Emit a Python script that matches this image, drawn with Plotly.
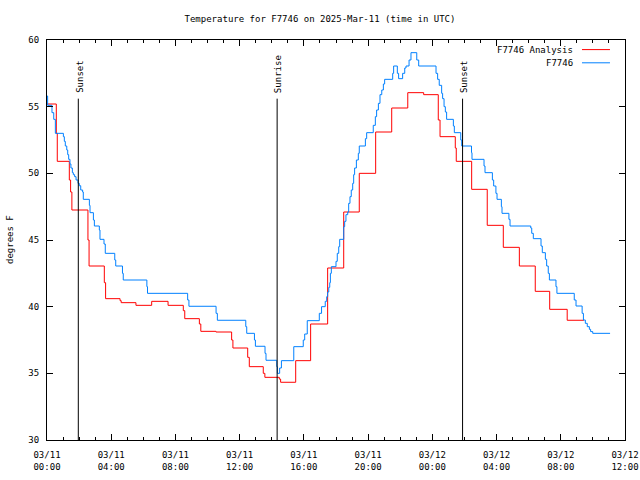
import pandas as pd
import plotly.graph_objects as go

START = pd.Timestamp("2025-03-11 00:00")

# Hourly analysis (hours after 03/11 00:00 UTC, degrees F)
analysis_hours = [0.00, 0.58, 0.64, 1.39, 1.47, 1.55, 2.55, 2.62, 3.57, 3.65,
                  4.55, 4.62, 5.54, 6.52, 7.54, 8.49, 8.58, 9.49, 9.58, 10.52,
                  11.50, 11.58, 12.50, 12.60, 13.47, 13.57, 14.47, 14.55, 15.49, 16.42,
                  17.48, 18.48, 19.45, 20.47, 21.47, 22.47, 23.46, 24.37, 24.48, 25.43,
                  25.49, 26.45, 27.42, 28.42, 29.42, 30.41, 31.31, 32.40, 33.44]
analysis_temps = [55.2, 53.0, 50.9, 49.5, 48.6, 47.25, 45.0, 43.05, 41.8, 40.6,
                  40.45, 40.3, 40.1, 40.4, 40.1, 39.7, 39.1, 38.7, 38.15, 38.1,
                  37.5, 36.9, 36.2, 35.5, 35.0, 34.7, 34.57, 34.33, 35.95, 38.7,
                  42.9, 47.1, 50.0, 53.1, 54.9, 56.05, 55.9, 54.0, 52.75, 51.9,
                  50.9, 48.8, 46.1, 44.45, 43.05, 41.15, 39.8, 38.98, 38.98]

# Station observations
obs_hours = [0.00, 0.04, 0.31, 0.42, 0.52, 1.02, 1.08, 1.14, 1.23, 1.29,
             1.35, 1.43, 1.49, 1.58, 1.64, 1.72, 1.81, 1.93, 2.01, 2.10,
             2.22, 2.26, 2.64, 2.68, 2.89, 2.95, 3.26, 3.30, 3.55, 3.63,
             4.22, 4.28, 4.70, 4.75, 6.22, 6.26, 8.76, 8.84, 10.53, 10.61,
             12.38, 12.44, 12.92, 12.98, 13.58, 13.64, 14.31, 14.35, 14.49, 14.60,
             15.37, 15.96, 16.05, 16.21, 16.96, 17.10, 17.33, 17.42, 17.48, 17.55,
             17.61, 17.65, 17.71, 18.00, 18.08, 18.17, 18.23, 18.48, 18.54, 18.62,
             18.73, 18.79, 18.87, 18.95, 19.04, 19.10, 19.16, 19.27, 19.39, 19.45,
             19.83, 19.91, 20.32, 20.45, 20.53, 20.64, 20.74, 20.85, 20.95, 21.03,
             21.53, 21.59, 21.82, 21.90, 22.15, 22.28, 22.36, 22.55, 22.67, 23.03,
             23.15, 24.23, 24.33, 24.43, 24.58, 24.64, 24.73, 24.81, 24.89, 25.31,
             25.37, 25.77, 25.83, 26.44, 26.47, 27.22, 27.28, 27.74, 27.82, 27.96,
             28.03, 28.30, 28.34, 28.77, 28.84, 30.13, 30.19, 30.29, 30.77, 30.85,
             31.04, 31.12, 31.22, 31.29, 31.70, 31.76, 32.84, 32.95, 33.33, 33.41,
             33.53, 33.65, 33.78, 33.86, 33.99, 35.07]
obs_temps = [55.8, 55.1, 54.55, 54.05, 53.0, 52.75, 52.4, 52.05, 51.75, 51.4,
             51.05, 50.7, 50.4, 50.05, 49.9, 49.75, 49.5, 49.25, 49.07, 48.75,
             48.6, 48.05, 47.6, 47.05, 46.5, 46.05, 45.75, 45.05, 44.7, 44.0,
             43.5, 43.05, 42.5, 42.0, 41.5, 41.0, 40.5, 40.03, 39.5, 38.98,
             38.5, 38.0, 37.5, 37.03, 36.5, 35.98, 35.5, 35.0, 35.4, 35.95,
             37.0, 37.5, 37.95, 38.95, 39.5, 40.0, 40.4, 40.75, 41.1, 41.45,
             41.8, 42.5, 43.0, 43.4, 44.0, 44.5, 45.05, 46.0, 46.4, 46.9,
             47.1, 47.75, 48.25, 48.75, 49.25, 49.9, 50.4, 51.0, 51.5, 52.05,
             52.6, 53.05, 53.6, 54.25, 54.75, 55.25, 55.9, 56.25, 56.7, 57.05,
             57.5, 58.05, 57.5, 57.1, 57.5, 57.9, 58.05, 58.5, 59.05, 58.5,
             58.05, 57.5, 57.05, 56.6, 56.0, 55.6, 55.0, 54.6, 54.05, 53.55,
             53.05, 52.5, 52.05, 51.55, 51.05, 50.55, 50.05, 49.5, 49.05, 48.5,
             48.05, 47.5, 47.0, 46.55, 46.05, 45.9, 45.5, 45.1, 44.55, 44.05,
             43.55, 43.05, 42.5, 42.0, 41.5, 41.0, 40.5, 40.05, 39.5, 39.0,
             38.75, 38.5, 38.3, 38.13, 38.0, 38.0]

event_names = ["Sunset", "Sunrise", "Sunset"]
event_times = ["2025-03-11 01:57", "2025-03-11 14:20", "2025-03-12 01:53"]

tick_times = ["2025-03-11 00:00", "2025-03-11 04:00", "2025-03-11 08:00",
              "2025-03-11 12:00", "2025-03-11 16:00", "2025-03-11 20:00",
              "2025-03-12 00:00", "2025-03-12 04:00", "2025-03-12 08:00",
              "2025-03-12 12:00"]
tick_labels = ["03/11<br>00:00", "03/11<br>04:00", "03/11<br>08:00",
               "03/11<br>12:00", "03/11<br>16:00", "03/11<br>20:00",
               "03/12<br>00:00", "03/12<br>04:00", "03/12<br>08:00",
               "03/12<br>12:00"]

series_names = ["F7746 Analysis", "F7746"]
series_colors = ["#ff0000", "#0080ff"]

FONT = "DejaVu Sans Mono"
FS = 9


def to_time(hours):
    return [START + pd.Timedelta(hours=h) for h in hours]


fig = go.Figure()
fig.add_trace(go.Scatter(x=to_time(analysis_hours), y=analysis_temps, mode="lines",
                         line=dict(color=series_colors[0], width=1, shape="hv"),
                         name=series_names[0], showlegend=False))
fig.add_trace(go.Scatter(x=to_time(obs_hours), y=obs_temps, mode="lines",
                         line=dict(color=series_colors[1], width=1, shape="hv"),
                         name=series_names[1], showlegend=False))

shapes = []
annotations = []
for name, t in zip(event_names, event_times):
    shapes.append(dict(type="line", xref="x", yref="y", x0=t, x1=t, y0=30, y1=55.6,
                       line=dict(color="black", width=1)))
    annotations.append(dict(x=t, y=56.1, xref="x", yref="y", text=name, showarrow=False,
                            textangle=-90, xanchor="center", yanchor="bottom", xshift=1,
                            yshift=-2, borderpad=0,
                            font=dict(family=FONT, size=FS, color="black")))

# gnuplot-style legend: text, then sample line to its right
for i, (nm, col) in enumerate(zip(series_names, series_colors)):
    yy = [0.976, 0.943][i]
    annotations.append(dict(x=0.9135, y=yy, xref="paper", yref="paper", text=nm,
                            showarrow=False, xanchor="right", yanchor="middle",
                            font=dict(family=FONT, size=FS, color="black")))
    shapes.append(dict(type="line", xref="paper", yref="paper", x0=0.9256, x1=0.9740,
                       y0=yy, y1=yy, line=dict(color=col, width=1)))

annotations.append(dict(x=-0.064, y=0.5, xref="paper", yref="paper", text="degrees F",
                        showarrow=False, textangle=-90, xanchor="center", yanchor="middle",
                        font=dict(family=FONT, size=FS, color="black")))

W, H = 640, 480
fig.update_layout(
    width=W, height=H,
    margin=dict(l=47, r=15, t=40, b=40, autoexpand=False),
    paper_bgcolor="white", plot_bgcolor="white",
    font=dict(family=FONT, size=FS, color="black"),
    title=dict(text="Temperature for F7746 on 2025-Mar-11 (time in UTC)",
               x=0.5, xanchor="center", y=1 - 19 / H, yanchor="middle",
               font=dict(family=FONT, size=FS, color="black")),
    shapes=shapes, annotations=annotations,
    showlegend=False,
)
fig.update_xaxes(
    automargin=False,
    range=[tick_times[0], tick_times[-1]],
    tickmode="array", tickvals=tick_times, ticktext=tick_labels,
    ticks="inside", ticklen=6, tickcolor="black", tickwidth=1,
    ticklabelstandoff=6, ticklabeloverflow="allow",
    showline=True, linecolor="black", linewidth=1, mirror="ticks",
    showgrid=False, zeroline=False,
    minor=dict(tickmode="linear", tick0=tick_times[0], dtick=3600000,
               ticks="inside", ticklen=3, tickcolor="black", showgrid=False),
    tickfont=dict(family=FONT, size=FS, color="black"),
)
fig.update_yaxes(
    automargin=False,
    range=[30, 60], dtick=5, tick0=30,
    ticks="inside", ticklen=6, tickcolor="black", tickwidth=1,
    ticklabelstandoff=5,
    showline=True, linecolor="black", linewidth=1, mirror="ticks",
    showgrid=False, zeroline=False,
    tickfont=dict(family=FONT, size=FS, color="black"),
)

# Remove the browser's default 8px body margin so the 640x480 figure fills the window.
fig.write_html("out.html",
               config={"displayModeBar": False},
               post_script="document.body.style.margin='0';document.body.style.overflow='hidden';")
